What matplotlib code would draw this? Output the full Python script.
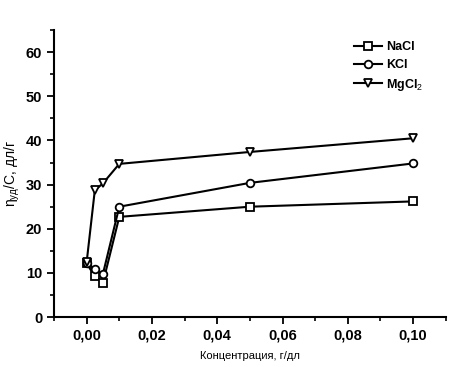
import numpy as np
import matplotlib.pyplot as plt
from matplotlib.ticker import MultipleLocator, FuncFormatter

plt.rcParams['font.family'] = ['Liberation Sans', 'DejaVu Sans']
plt.rcParams['mathtext.fontset'] = 'custom'
plt.rcParams['mathtext.rm'] = 'Liberation Sans'
plt.rcParams['mathtext.it'] = 'Liberation Sans'

conc = [0.0, 0.0025, 0.005, 0.01, 0.05, 0.1]
nacl = [12.2, 9.2, 7.8, 22.7, 25.0, 26.2]
kcl = [12.3, 10.9, 9.8, 25.0, 30.4, 34.8]
mgcl2 = [12.4, 28.7, 30.3, 34.7, 37.4, 40.5]

series = [
    (nacl, 's', 'NaCl'),
    (kcl, 'o', 'KCl'),
    (mgcl2, 'v', 'MgCl$_2$'),
]

fig = plt.figure(figsize=(4.67, 3.67), dpi=100)
ax = fig.add_axes([0.1156, 0.136, 0.839, 0.782])

for vals, mk, lab in series:
    ax.plot(conc, vals, color='black', lw=1.5, marker=mk, markersize=5.5,
            markerfacecolor='white', markeredgecolor='black', markeredgewidth=1.3,
            label=lab)

ax.set_xlim(-0.01, 0.11)
ax.set_ylim(0, 65)
ax.xaxis.set_major_locator(MultipleLocator(0.02))
ax.xaxis.set_minor_locator(MultipleLocator(0.01))
ax.yaxis.set_major_locator(MultipleLocator(10))
ax.yaxis.set_minor_locator(MultipleLocator(5))
ax.xaxis.set_major_formatter(FuncFormatter(lambda v, p: ('%.2f' % v).replace('.', ',')))

for s in ['top', 'right']:
    ax.spines[s].set_visible(False)
for s in ['left', 'bottom']:
    ax.spines[s].set_linewidth(1.5)

ax.tick_params(which='major', direction='out', length=5, width=1.3, labelsize=10.5)
ax.tick_params(which='minor', direction='out', length=3, width=1.2)
for t in ax.get_xticklabels() + ax.get_yticklabels():
    t.set_fontweight('bold')

ax.set_xlabel('Концентрация, г/дл', fontsize=8, labelpad=6)
ax.set_ylabel(r'η$_{\mathrm{уд}}$/С, дл/г', fontsize=10, labelpad=3)

leg = ax.legend(loc='upper right', bbox_to_anchor=(0.97, 1.0), frameon=False,
                handlelength=2.2, handletextpad=0.3, labelspacing=0.45,
                prop={'weight': 'bold', 'size': 9})

fig.savefig('out.png', dpi=100)
